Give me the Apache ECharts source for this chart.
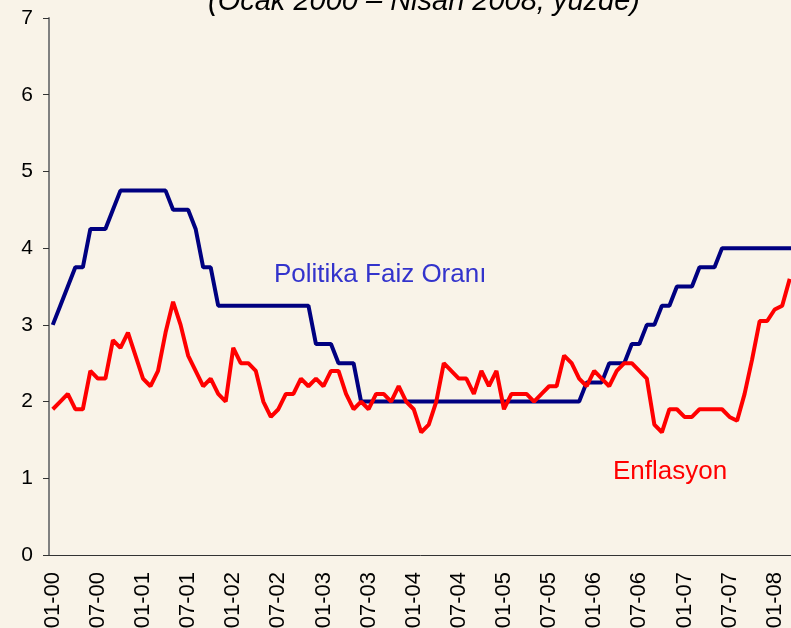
<!DOCTYPE html>
<html lang="tr">
  <head>
    <meta charset="UTF-8" />
    <title>politika faizi ve enflasyon</title>
    <style>
      html,
      body {
        margin: 0;
        padding: 0;
        background-color: #f9f3e8;
      }
      #chart {
        width: 791px;
        height: 628px;
      }
    </style>
  </head>
  <body>
    <div id="chart"></div>
    <script src="https://cdn.jsdelivr.net/npm/echarts@6/dist/echarts.min.js"></script>
    <script>
      // aylar: Ocak 2000 - Nisan 2008, etiket "AA-YY"
      let years = ["00", "01", "02", "03", "04", "05", "06", "07", "08"];
      let monthNums = ["01", "02", "03", "04", "05", "06", "07", "08", "09", "10", "11", "12"];
      let months = [];
      years.forEach((y) => {
        monthNums.forEach((m) => {
          if (y === "08" && Number(m) > 4) return;
          months.push(m + "-" + y);
        });
      });

      // politika faiz orani (yuzde)
      let policyRate = [
        3.0, 3.25, 3.5, 3.75, 3.75, 4.25, 4.25, 4.25, 4.5, 4.75, 4.75, 4.75,
        4.75, 4.75, 4.75, 4.75, 4.5, 4.5, 4.5, 4.25, 3.75, 3.75, 3.25, 3.25,
        3.25, 3.25, 3.25, 3.25, 3.25, 3.25, 3.25, 3.25, 3.25, 3.25, 3.25, 2.75,
        2.75, 2.75, 2.5, 2.5, 2.5, 2.0, 2.0, 2.0, 2.0, 2.0, 2.0, 2.0,
        2.0, 2.0, 2.0, 2.0, 2.0, 2.0, 2.0, 2.0, 2.0, 2.0, 2.0, 2.0,
        2.0, 2.0, 2.0, 2.0, 2.0, 2.0, 2.0, 2.0, 2.0, 2.0, 2.0, 2.25,
        2.25, 2.25, 2.5, 2.5, 2.5, 2.75, 2.75, 3.0, 3.0, 3.25, 3.25, 3.5,
        3.5, 3.5, 3.75, 3.75, 3.75, 4.0, 4.0, 4.0, 4.0, 4.0, 4.0, 4.0,
        4.0, 4.0, 4.0, 4.0,
      ];

      // enflasyon (yillik, yuzde)
      let inflation = [
        1.9, 2.0, 2.1, 1.9, 1.9, 2.4, 2.3, 2.3, 2.8, 2.7, 2.9, 2.6,
        2.3, 2.2, 2.4, 2.9, 3.3, 3.0, 2.6, 2.4, 2.2, 2.3, 2.1, 2.0,
        2.7, 2.5, 2.5, 2.4, 2.0, 1.8, 1.9, 2.1, 2.1, 2.3, 2.2, 2.3,
        2.2, 2.4, 2.4, 2.1, 1.9, 2.0, 1.9, 2.1, 2.1, 2.0, 2.2, 2.0,
        1.9, 1.6, 1.7, 2.0, 2.5, 2.4, 2.3, 2.3, 2.1, 2.4, 2.2, 2.4,
        1.9, 2.1, 2.1, 2.1, 2.0, 2.1, 2.2, 2.2, 2.6, 2.5, 2.3, 2.2,
        2.4, 2.3, 2.2, 2.4, 2.5, 2.5, 2.4, 2.3, 1.7, 1.6, 1.9, 1.9,
        1.8, 1.8, 1.9, 1.9, 1.9, 1.9, 1.8, 1.75, 2.1, 2.55, 3.05, 3.05,
        3.2, 3.25, 3.6,
      ];

      let yTicks = [0, 1, 2, 3, 4, 5, 6, 7];

      let font = "'Liberation Sans', Arial, sans-serif";
      let mchart = echarts.init(document.getElementById("chart"));
      let option = {
        backgroundColor: "#f9f3e8",
        animation: false,
        textStyle: { fontFamily: font },
        grid: {
          left: 49,
          top: 18,
          width: 752,
          bottom: 73,
          containLabel: false,
          outerBoundsMode: "none",
        },
        xAxis: {
          type: "category",
          data: months,
          boundaryGap: true,
          axisLine: { lineStyle: { color: "#333", width: 1 } },
          axisTick: { interval: 5, length: 6, lineStyle: { color: "#333" } },
          axisLabel: {
            interval: 5,
            rotate: 90,
            margin: 17,
            fontSize: 22,
            color: "#000",
            fontFamily: font,
          },
          splitLine: { show: false },
        },
        yAxis: {
          type: "value",
          min: yTicks[0],
          max: yTicks[yTicks.length - 1],
          interval: 1,
          axisLine: { show: true, lineStyle: { color: "#808080", width: 2 } },
          axisTick: { show: true, length: 6, lineStyle: { color: "#333" } },
          axisLabel: { margin: 16, fontSize: 21, color: "#000", fontFamily: font },
          splitLine: { show: false },
        },
        graphic: [
          {
            type: "text",
            x: 424,
            y: 2,
            style: {
              text: "(Ocak 2000 – Nisan 2008, yüzde)",
              font: "italic 29px " + font,
              fill: "#000",
              align: "center",
              verticalAlign: "middle",
            },
          },
          {
            type: "text",
            x: 274,
            y: 275,
            style: {
              text: "Politika Faiz Oranı",
              font: "26px " + font,
              fill: "#3333cc",
              align: "left",
              verticalAlign: "middle",
            },
          },
          {
            type: "text",
            x: 613,
            y: 472,
            style: {
              text: "Enflasyon",
              font: "26px " + font,
              fill: "#ff0000",
              align: "left",
              verticalAlign: "middle",
            },
          },
        ],
        series: [
          {
            name: "Politika Faiz Oranı",
            type: "line",
            data: policyRate,
            symbol: "none",
            lineStyle: { color: "#000080", width: 4 },
            z: 3,
          },
          {
            name: "Enflasyon",
            type: "line",
            data: inflation,
            symbol: "none",
            lineStyle: { color: "#ff0000", width: 4 },
            z: 4,
          },
        ],
      };
      mchart.setOption(option);
    </script>
  </body>
</html>
